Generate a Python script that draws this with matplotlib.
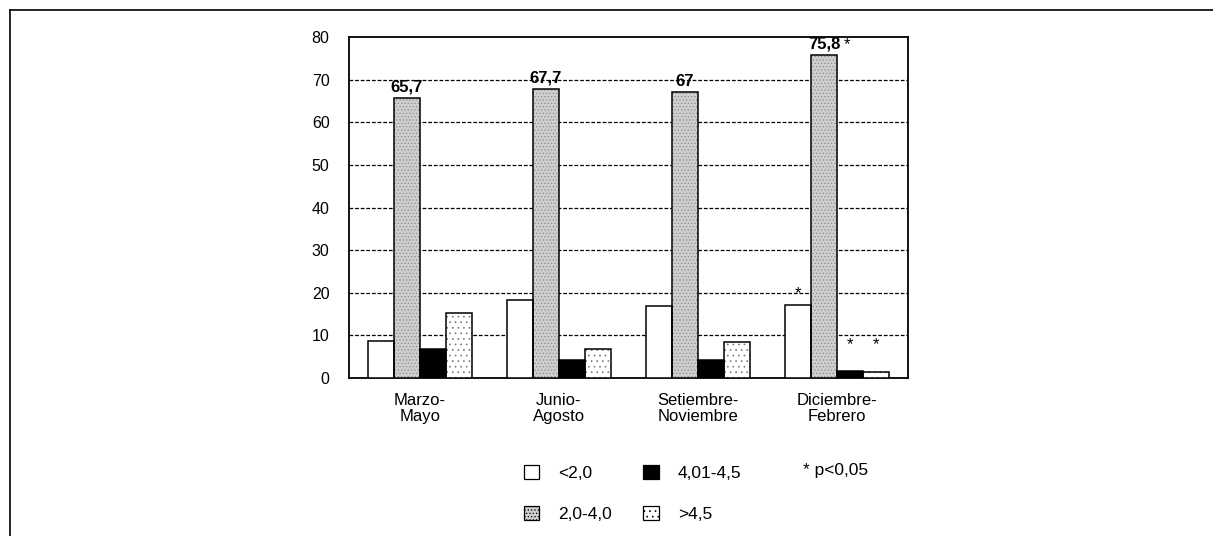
import numpy as np
import matplotlib.pyplot as plt
from matplotlib.patches import Patch
from matplotlib.lines import Line2D

plt.rcParams['font.family'] = ['Liberation Sans', 'DejaVu Sans']
plt.rcParams['hatch.linewidth'] = 0.5

# data (% of cases per season)
seasons = ['Marzo-\nMayo', 'Junio-\nAgosto', 'Setiembre-\nNoviembre',
           'Diciembre-\nFebrero']
groups = ['<2,0', '2,0-4,0', '4,01-4,5', '>4,5']
low = [8.7, 18.3, 16.8, 17.1]
mid = [65.7, 67.7, 67.0, 75.8]
high = [6.8, 4.2, 4.3, 1.7]
top = [15.3, 6.8, 8.4, 1.5]
mid_labels = ['65,7', '67,7', '67', '75,8']
yticks = [0, 10, 20, 30, 40, 50, 60, 70, 80]

W, H = 1213, 536
fig = plt.figure(figsize=(W / 100, H / 100), dpi=100)
ax = fig.add_axes([349 / W, 1 - 378 / H, 559 / W, 341 / H])

x = np.arange(len(seasons))
bw = 0.187
fills = [
    dict(facecolor='white', edgecolor='black'),
    dict(facecolor='#cfcfcf', edgecolor='#8a8a8a', hatch='.....'),
    dict(facecolor='black', edgecolor='black'),
    dict(facecolor='white', edgecolor='#7a7a7a', hatch='...'),
]
series = [low, mid, high, top]
for i, (vals, st) in enumerate(zip(series, fills)):
    pos = x + (i - 1.5) * bw
    # textured fill, then a black outline on top
    ax.bar(pos, vals, bw, linewidth=0, zorder=3, **st)
    ax.bar(pos, vals, bw, fill=False, edgecolor='black', linewidth=1.1,
           zorder=4)

# value labels above the 2,0-4,0 bars
for xi, v, lab in zip(x, mid, mid_labels):
    ax.text(xi - 0.5 * bw, v + 0.9, lab, ha='center', va='bottom',
            fontsize=12, fontweight='bold', zorder=5)

# significance marks for Diciembre-Febrero
ax.text(3 - 0.5 * bw + 0.14, mid[3] + 0.6, '*', ha='left', va='bottom',
        fontsize=12)
ax.text(3 - 1.5 * bw, low[3] + 1.0, '*', ha='center', va='bottom',
        fontsize=12)
ax.text(3 + 0.5 * bw, high[3] + 4.3, '*', ha='center', va='bottom',
        fontsize=12)
ax.text(3 + 1.5 * bw, top[3] + 4.5, '*', ha='center', va='bottom',
        fontsize=12)

ax.set_xlim(-0.51, 3.51)
ax.set_ylim(0, 80)
ax.set_yticks(yticks)
ax.set_yticklabels([str(t) for t in yticks], fontsize=11.5)
ax.set_xticks(x)
ax.set_xticklabels(seasons, fontsize=12, linespacing=1.05)
ax.tick_params(axis='y', length=0, pad=14)
ax.tick_params(axis='x', length=0, pad=11)
for t in yticks[1:-1]:
    ax.axhline(t, color='black', linestyle=(0, (3, 1.5)), linewidth=0.9,
               zorder=1)
for s in ax.spines.values():
    s.set_linewidth(1.3)

# legend
handles = []
for g, st in zip(groups, fills):
    handles.append(Patch(label=g, facecolor=st['facecolor'],
                         edgecolor='black', hatch=st.get('hatch'),
                         linewidth=0.9))
leg = fig.legend(handles=handles, ncol=2, frameon=False, fontsize=12.5,
                 loc='upper left', bbox_to_anchor=(508 / W, 1 - 449 / H),
                 handlelength=0.9, handleheight=0.9, handletextpad=1.1,
                 columnspacing=1.8, labelspacing=1.45)
fig.text(803 / W, 1 - 471 / H, '* p<0,05', fontsize=12.5, va='center')

# page frame
fig.add_artist(Line2D([10 / W, 1], [1 - 10 / H, 1 - 10 / H], color='black',
                      linewidth=1.2, transform=fig.transFigure))
fig.add_artist(Line2D([10 / W, 10 / W], [0, 1 - 10 / H], color='black',
                      linewidth=1.2, transform=fig.transFigure))

fig.savefig('out.png', dpi=100)
